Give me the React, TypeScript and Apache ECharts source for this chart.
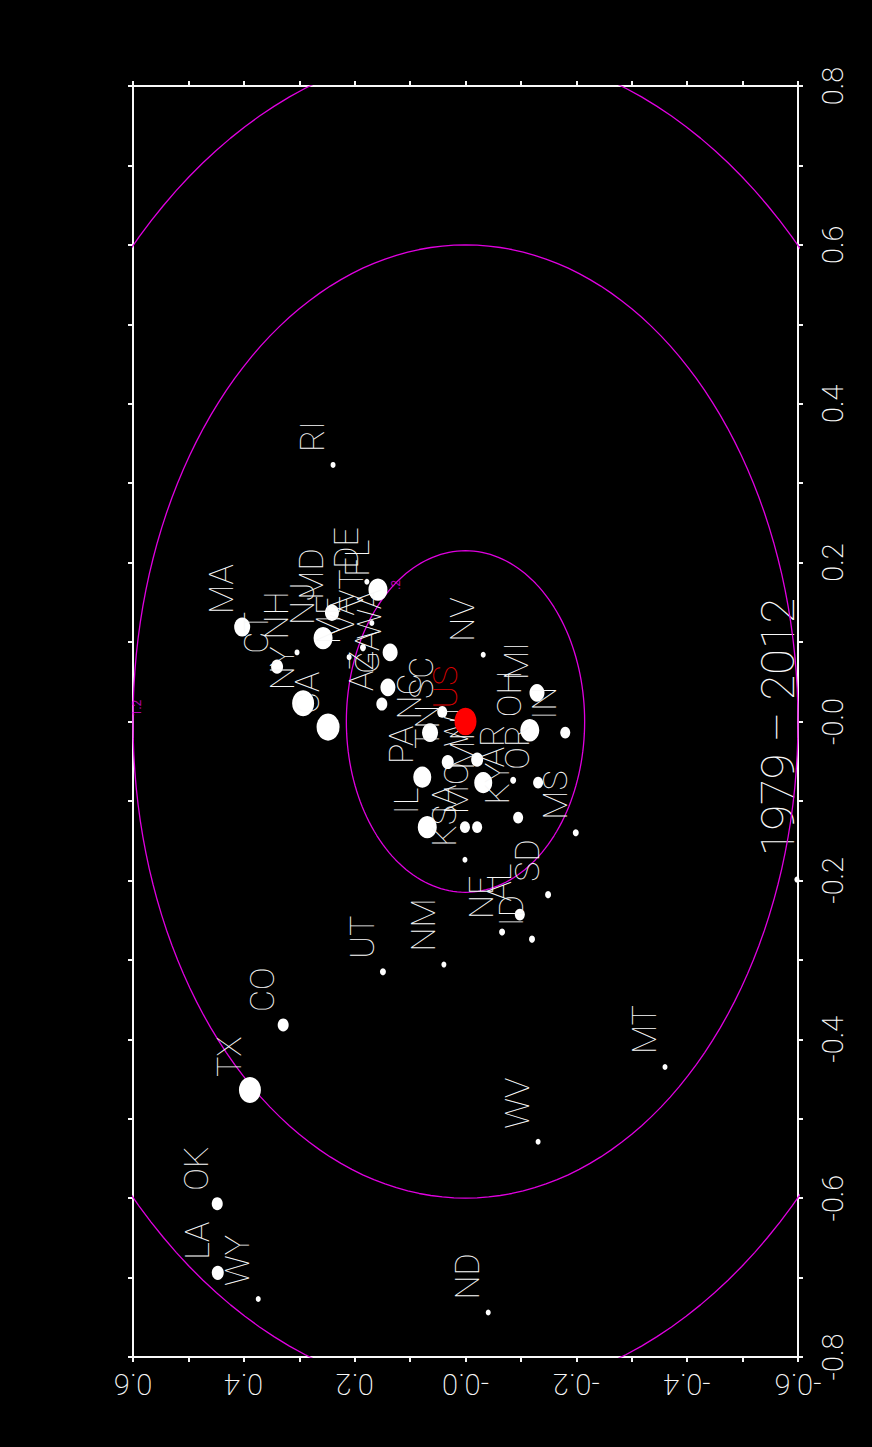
import React, { useEffect, useRef } from "react";
import * as echarts from "echarts";

// ---- data (picture horizontal = STATE_Y, picture vertical = STATE_X) ----
const STATES = [
  "RI", "MA", "MT", "WV", "ND", "UT", "NM", "CO", "TX", "OK", "LA", "WY",
  "CT", "NH", "NY", "CA", "NJ", "MD", "DE", "FL", "VT", "ME", "WA", "GA",
  "AZ", "NV", "MI", "IN", "OH", "SC", "NC", "PA", "IL", "TN", "WI", "MN",
  "AR", "OR", "KY", "IA", "MO", "KS", "MS", "SD", "AL", "NE", "ID", "VA", "",
];
const STATE_Y = [
  0.239, 0.403, -0.36, -0.131, -0.041, 0.149, 0.039, 0.329, 0.389, 0.448, 0.447, 0.374,
  0.34, 0.304, 0.293, 0.248, 0.257, 0.241, 0.178, 0.158, 0.169, 0.21, 0.136, 0.14,
  0.151, -0.032, -0.129, -0.18, -0.116, 0.042, 0.064, 0.078, 0.069, 0.032, -0.021, -0.032,
  -0.086, -0.131, -0.095, 0.001, -0.021, 0.001, -0.199, -0.149, -0.098, -0.066, -0.12, 0.185, -0.598,
];
const STATE_X = [
  0.323, 0.119, -0.435, -0.529, -0.744, -0.315, -0.306, -0.382, -0.464, -0.607, -0.694, -0.727,
  0.069, 0.087, 0.023, -0.007, 0.105, 0.137, 0.176, 0.166, 0.124, 0.081, 0.087, 0.043,
  0.022, 0.084, 0.036, -0.014, -0.011, 0.012, -0.014, -0.07, -0.133, -0.051, -0.048, -0.077,
  -0.074, -0.077, -0.121, -0.133, -0.133, -0.174, -0.14, -0.218, -0.243, -0.265, -0.274, 0.093, -0.199,
];
const STATE_WEIGHT = [
  5, 16, 5, 5, 5, 6, 5, 11, 22, 11, 12, 5,
  12, 5, 22, 23, 19, 14, 5, 19, 5, 5, 15, 15,
  11, 5, 15, 10, 19, 10, 16, 18, 19, 12, 12, 18,
  6, 10, 10, 10, 10, 5, 6, 6, 10, 6, 6, 6, 5,
];

const US_NAME = "US";
const US_Y = 0.0;
const US_X = 0.0;
const US_WEIGHT = 22;

const CONTOUR_RADII = [0.215, 0.6, 0.848];
const CONTOUR_LABELS = [".2", "1.2"];
const CONTOUR_LABEL_Y = [0.125, 0.592];
const CONTOUR_LABEL_X = [0.172, 0.017];

const H_TICKS = [0.6, 0.4, 0.2, 0, -0.2, -0.4, -0.6];
const H_TICK_LABELS = ["0.6", "0.4", "0.2", "-0.0", "-0.2", "-0.4", "-0.6"];
const V_TICKS = [0.8, 0.6, 0.4, 0.2, 0, -0.2, -0.4, -0.6, -0.8];
const V_TICK_LABELS = ["0.8", "0.6", "0.4", "0.2", "-0.0", "-0.2", "-0.4", "-0.6", "-0.8"];

const PERIOD = "1979 – 2012";

// ---- styles ----
const FONT = "Roboto, 'DejaVu Sans', sans-serif";
const WHITE = "#f8f8f8";
const MAGENTA = "#e000e0";

const tickFormatter = (ticks: number[], labels: string[]) => (v: number) => {
  const i = ticks.findIndex((t) => Math.abs(t - v) < 1e-6);
  return i >= 0 ? labels[i] : "";
};

const circlePoints = (r: number) => {
  const pts: number[][] = [];
  for (let a = 0; a <= 360; a += 2) {
    const t = (a * Math.PI) / 180;
    pts.push([r * Math.sin(t), r * Math.cos(t)]);
  }
  return pts;
};

const frameAxis = (extra: any) => ({
  type: "value",
  axisLine: { show: true, onZero: false, lineStyle: { color: WHITE, width: 2 } },
  axisTick: { show: true, inside: false, length: 5, lineStyle: { color: WHITE, width: 2 } },
  minorTick: { show: true, splitNumber: 2, length: 5, lineStyle: { color: WHITE, width: 2 } },
  splitLine: { show: false },
  minorSplitLine: { show: false },
  ...extra,
});

const LABEL_DX = -4;
const LABEL_DY = -13;

export default function App() {
  const ref = useRef<HTMLDivElement>(null);

  useEffect(() => {
    document.body.style.margin = "0";
    document.body.style.background = "#000";
    if (!ref.current) return;
    const chart = echarts.init(ref.current, undefined, { renderer: "svg" });

    const stateData = STATES.map((name, i) => {
      const w = STATE_WEIGHT[i];
      const h = w * 1.18;
      return {
        name,
        value: [STATE_Y[i], STATE_X[i], w],
        symbolSize: [w, h],
        label: { show: name !== "", position: [w / 2 + LABEL_DX, h / 2 + LABEL_DY] },
      };
    });

    const usW = US_WEIGHT;
    const usH = usW * 1.25;

    const labelBase = {
      show: true,
      formatter: "{b}",
      rotate: 90,
      align: "left",
      verticalAlign: "bottom",
      color: WHITE,
      fontFamily: FONT,
      fontWeight: 100,
      fontSize: 34,
    };

    const option: any = {
      animation: false,
      backgroundColor: "#000",
      grid: { left: 133, right: 74, top: 86, bottom: 90, containLabel: false, outerBoundsMode: "none" },
      xAxis: [
        frameAxis({
          position: "bottom",
          min: -0.6,
          max: 0.6,
          interval: 0.2,
          inverse: true,
          axisLabel: {
            show: true,
            rotate: 180,
            margin: 12,
            color: WHITE,
            fontFamily: FONT,
            fontWeight: 200,
            fontSize: 29,
            showMinLabel: true,
            showMaxLabel: true,
            formatter: tickFormatter(H_TICKS, H_TICK_LABELS),
          },
        }),
        frameAxis({
          position: "top",
          min: -0.6,
          max: 0.6,
          interval: 0.2,
          inverse: true,
          axisLabel: { show: false },
        }),
      ],
      yAxis: [
        frameAxis({
          position: "right",
          min: -0.8,
          max: 0.8,
          interval: 0.2,
          axisLabel: {
            show: true,
            rotate: 90,
            margin: 20,
            color: WHITE,
            fontFamily: FONT,
            fontWeight: 200,
            fontSize: 29,
            showMinLabel: true,
            showMaxLabel: true,
            formatter: tickFormatter(V_TICKS, V_TICK_LABELS),
          },
        }),
        frameAxis({
          position: "left",
          min: -0.8,
          max: 0.8,
          interval: 0.2,
          axisLabel: { show: false },
        }),
      ],
      series: [
        ...CONTOUR_RADII.map((r) => ({
          type: "line",
          data: circlePoints(r),
          symbol: "none",
          smooth: false,
          clip: true,
          silent: true,
          z: 1,
          lineStyle: { color: MAGENTA, width: 1.3 },
        })),
        {
          type: "scatter",
          silent: true,
          z: 2,
          symbolSize: 0,
          data: CONTOUR_LABELS.map((t, i) => ({ name: t, value: [CONTOUR_LABEL_Y[i], CONTOUR_LABEL_X[i]] })),
          label: {
            show: true,
            formatter: "{b}",
            position: "inside",
            rotate: 90,
            color: MAGENTA,
            fontFamily: FONT,
            fontSize: 12,
          },
        },
        {
          type: "scatter",
          z: 3,
          silent: true,
          data: stateData,
          itemStyle: { color: "#ffffff", opacity: 1 },
          label: labelBase,
        },
        {
          type: "scatter",
          z: 4,
          silent: true,
          data: [
            {
              name: US_NAME,
              value: [US_Y, US_X, usW],
              symbolSize: [usW, usH],
              label: { position: [usW / 2 + LABEL_DX, usH / 2 + LABEL_DY] },
            },
          ],
          itemStyle: { color: "#ff0000", opacity: 1 },
          label: { ...labelBase, color: "#e00000" },
        },
      ],
      graphic: [
        {
          type: "text",
          x: 777,
          y: 727,
          rotation: Math.PI / 2,
          silent: true,
          style: {
            text: PERIOD,
            fill: WHITE,
            fontFamily: FONT,
            fontWeight: 100,
            fontSize: 47,
            align: "center",
            verticalAlign: "middle",
          },
        },
      ],
    };

    chart.setOption(option);
    return () => chart.dispose();
  }, []);

  return <div ref={ref} style={{ width: 872, height: 1447, background: "#000" }} />;
}
